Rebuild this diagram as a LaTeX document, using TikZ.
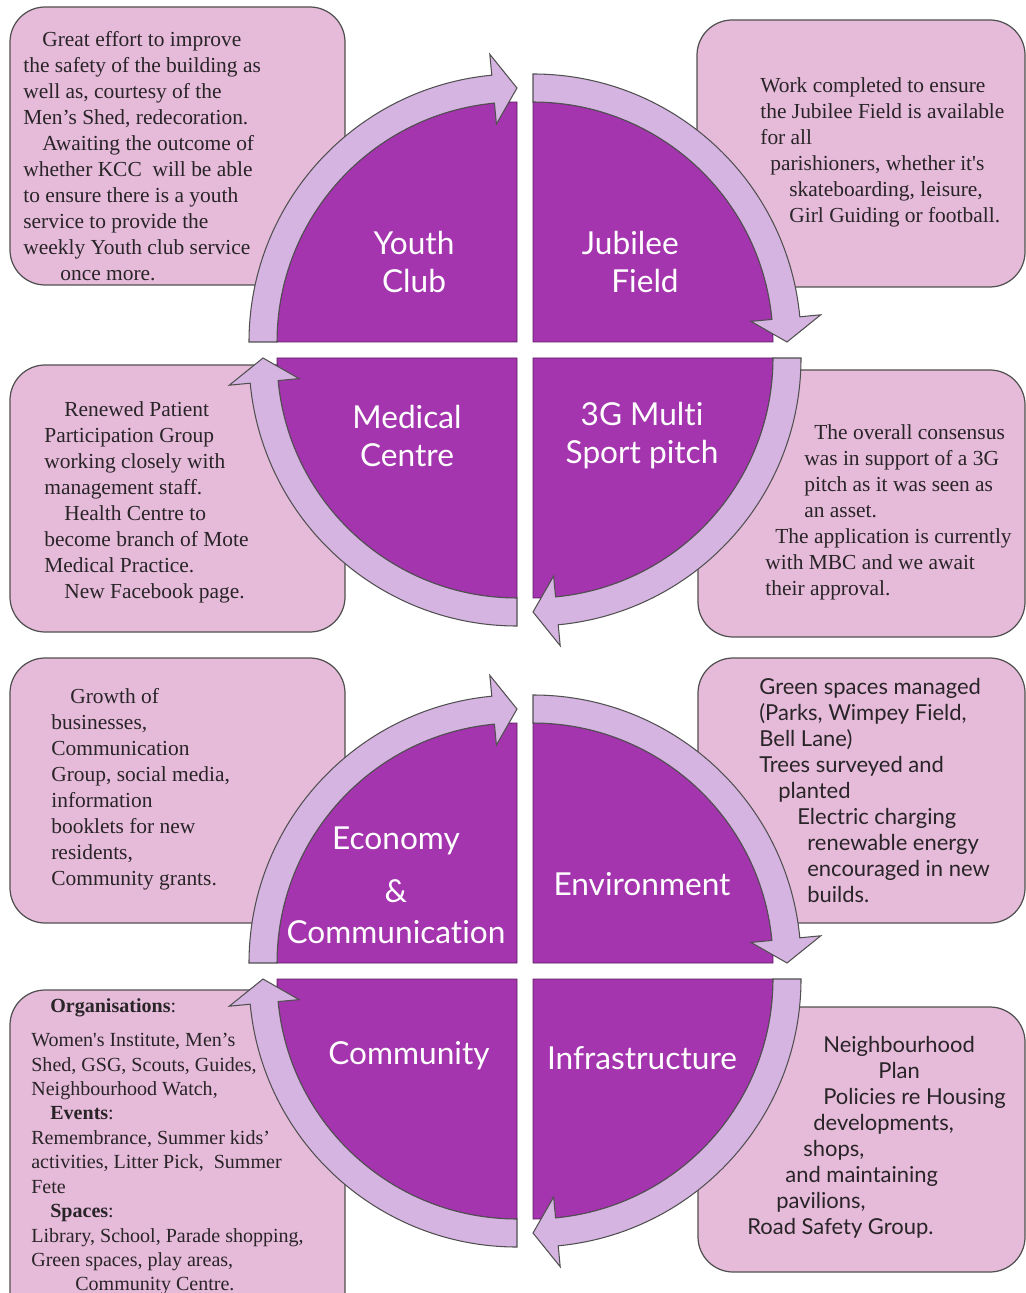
\documentclass[tikz,border=0pt]{standalone}
\usepackage{fontspec}
\setmainfont{Liberation Serif}
\newfontfamily\labelfont[Ligatures=NoCommon]{Lato}
\usepackage{tikz}

\definecolor{quadpurple}{RGB}{164,53,174}
\definecolor{bandlilac}{RGB}{214,180,225}
\definecolor{boxpink}{RGB}{230,187,217}
\definecolor{edgegrey}{RGB}{80,80,80}
\definecolor{inkgrey}{RGB}{40,36,40}

\newlength\pxu
\setlength\pxu{0.02cm}
\newcommand\ind[1]{\hspace*{#1\pxu}}

\begin{document}
\begin{tikzpicture}[x=0.02cm,y=0.02cm,
    box/.style={draw=edgegrey,line width=0.7pt,fill=boxpink,rounded corners=20pt},
    quad/.style={fill=quadpurple,draw=quadpurple!55!black,line width=0.5pt},
    band/.style={fill=bandlilac,draw=edgegrey,line width=0.6pt,line join=miter},
    note/.style={anchor=north west,inner sep=0pt,align=left,text=inkgrey,font=\fontsize{12.2}{14.8}\selectfont},
    snote/.style={note,font=\labelfont\fontsize{12.5}{14.8}\selectfont},
    title/.style={text=white,align=center,inner sep=0pt,font=\labelfont\fontsize{18}{21.6}\selectfont}]
    \useasboundingbox (0,0) rectangle (1026,-1293);

    % text boxes behind the wheels
    \draw[box] (10,-7) rectangle (345,-285);
    \draw[box] (697,-20) rectangle (1025,-287);
    \draw[box] (10,-365) rectangle (345,-632);
    \draw[box] (698,-370) rectangle (1025,-637);
    \draw[box] (10,-658) rectangle (345,-923);
    \draw[box] (698,-658) rectangle (1025,-923);
    \draw[box] (10,-990) rectangle (345,-1345);
    \draw[box] (698,-1007) rectangle (1025,-1272);

    \foreach \cx/\cy/\s/\t/\b in {517/-342/180/90/95.4, 533/-342/90/0/5.4, 533/-358/0/-90/-84.6, 517/-358/-90/-180/-174.6,
                                 517/-963/180/90/95.4, 533/-963/90/0/5.4, 533/-979/0/-90/-84.6, 517/-979/-90/-180/-174.6}{
        \draw[quad] (\cx,\cy) -- ++(\s:240) arc[start angle=\s,end angle=\t,radius=240] -- cycle;
        \draw[band] ([shift={(\cx,\cy)}]\s:268) arc[start angle=\s,end angle=\b,radius=268]
            -- ([shift={(\cx,\cy)}]\b:289) -- ([shift={(\cx,\cy)}]\t:254) -- ([shift={(\cx,\cy)}]\b:219)
            -- ([shift={(\cx,\cy)}]\b:240) arc[start angle=\b,end angle=\s,radius=240] -- cycle;
    }

    \node[title] (youth) at (414,-262) {Youth\\Club};
    \node[title,align=right,anchor=east] (jubilee) at (679,-262) {Jubilee\\Field};
    \node[title] (medical) at (407,-436) {Medical\\Centre};
    \node[title] (pitch) at (642,-436) {3G Multi\\Sport pitch};
    \node[title,font=\labelfont\fontsize{18}{23.3}\selectfont] (economy) at (396,-885) {Economy\\[6.8pt]\&\\Communication};
    \node[title] (environment) at (642,-884) {Environment};
    \node[title] (community) at (409,-1056) {Community};
    \node[title] (infra) at (642,-1058) {Infrastructure};

    \node[note] (youthtxt) at (23,-31) {\ind{19}Great effort to improve\\
        the safety of the building as\\
        well as, courtesy of the\\
        Men’s Shed, redecoration.\\
        \ind{19}Awaiting the outcome of\\
        whether KCC\ \ will be able\\
        to ensure there is a youth\\
        service to provide the\\
        weekly Youth club service\\
        \ind{37}once more.};
    \node[note] (jubileetxt) at (760,-77) {Work completed to ensure\\
        the Jubilee Field is available\\
        for all\\
        \ind{10}parishioners, whether it\textquotesingle s\\
        \ind{29}skateboarding, leisure,\\
        \ind{29}Girl Guiding or football.};
    \node[note] (medicaltxt) at (44,-401) {\ind{20}Renewed Patient\\
        Participation Group\\
        working closely with\\
        management staff.\\
        \ind{20}Health Centre to\\
        become branch of Mote\\
        Medical Practice.\\
        \ind{20}New Facebook page.};
    \node[note] (pitchtxt) at (765,-424) {\ind{49}The overall consensus\\
        \ind{39}was in support of a 3G\\
        \ind{39}pitch as it was seen as\\
        \ind{39}an asset.\\
        \ind{10}The application is currently\\
        with MBC and we await\\
        their approval.};
    \node[note] (economytxt) at (51,-688) {\ind{19}Growth of\\
        businesses,\\
        Communication\\
        Group, social media,\\
        information\\
        booklets for new\\
        residents,\\
        Community grants.};
    \node[snote] (environmenttxt) at (759,-678) {Green spaces managed\\
        (Parks, Wimpey Field,\\
        Bell Lane)\\
        Trees surveyed and\\
        \ind{19}planted\\
        \ind{38}Electric charging\\
        \ind{48}renewable energy\\
        \ind{48}encouraged in new\\
        \ind{48}builds.};
    \node[note,font=\fontsize{11.4}{13.9}\selectfont] (communitytxt) at (31,-998) {\ind{19}\textbf{Organisations}:\\[5.7pt]
        Women\textquotesingle s Institute, Men’s\\
        Shed, GSG, Scouts, Guides,\\
        Neighbourhood Watch,\\
        \ind{19}\textbf{Events}:\\
        Remembrance, Summer kids’\\
        activities, Litter Pick,\ \ Summer\\
        Fete\\
        \ind{19}\textbf{Spaces}:\\
        Library, School, Parade shopping,\\
        Green spaces, play areas,\\
        \ind{44}Community Centre.};
    \node[snote] (infratxt) at (747,-1036) {\ind{76}Neighbourhood\\
        \ind{131}Plan\\
        \ind{76}Policies re Housing\\
        \ind{66}developments,\\
        \ind{56}shops,\\
        \ind{38}and maintaining\\
        \ind{29}pavilions,\\
        Road Safety Group.};

    %\draw[band] (youth) -- (jubilee);
\end{tikzpicture}
\end{document}
